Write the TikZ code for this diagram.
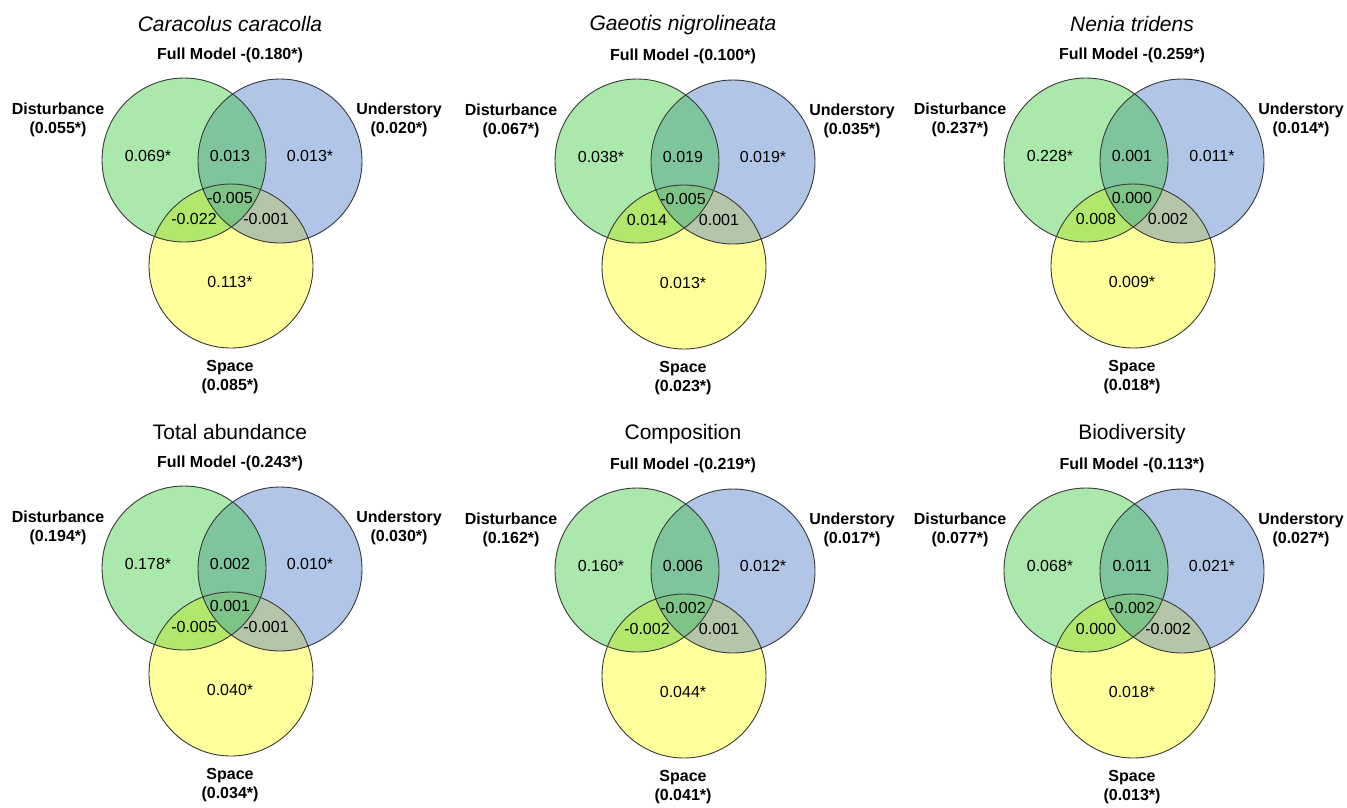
\documentclass[tikz,border=0pt]{standalone}
\usepackage{fontspec}
\setmainfont{Liberation Sans}
\definecolor{cG}{HTML}{ABE8AB}
\definecolor{cB}{HTML}{B1C5E6}
\definecolor{cY}{HTML}{FFFF9B}
\definecolor{cGB}{HTML}{7EC59D}
\definecolor{cGY}{HTML}{B1E86B}
\definecolor{cBY}{HTML}{B5C5A9}
\definecolor{cGBY}{HTML}{7DC486}
\definecolor{cLine}{HTML}{3A3A3A}
\tikzset{
  ttl/.style={font=\fontsize{21}{25}\selectfont, inner sep=0pt},
  lbl/.style={font=\fontsize{16}{19}\selectfont\bfseries, align=center, inner sep=0pt},
  num/.style={font=\fontsize{16}{19}\selectfont, inner sep=0pt},
  ring/.style={draw=cLine, line width=0.9pt},
}
\newcommand\vcirc{%
  \fill[cG] (-48,0) circle (82pt);
  \fill[cB] (48,1) circle (82pt);
  \fill[cY] (-1,106) circle (82pt);
  \begin{scope}\clip (-48,0) circle (82pt);
    \fill[cGB] (48,1) circle (82pt);
    \fill[cGY] (-1,106) circle (82pt);
  \end{scope}
  \begin{scope}\clip (48,1) circle (82pt);
    \fill[cBY] (-1,106) circle (82pt);
  \end{scope}
  \begin{scope}\clip (-48,0) circle (82pt); \clip (48,1) circle (82pt);
    \fill[cGBY] (-1,106) circle (82pt);
  \end{scope}
  \draw[ring] (-48,0) circle (82pt) (48,1) circle (82pt) (-1,106) circle (82pt);
}
% id, title, full, disturbance, understory, space
\newcommand\vlabels[6]{%
  \node[ttl] (#1title) at (-2,-136) {#2};
  \node[lbl] (#1full) at (-2,-105) {Full Model -(#3)};
  \node[lbl] (#1dist) at (-174,-40.5) {Disturbance\\(#4)};
  \node[lbl] (#1under) at (167,-40.5) {Understory\\(#5)};
  \node[lbl] (#1space) at (-2,217.5) {Space\\(#6)};
}
% id, g, gb, b, gby, gy, by, y
\newcommand\vnums[8]{%
  \node[num] (#1g) at (-84,-4) {#2};
  \node[num] (#1gb) at (-2,-4) {#3};
  \node[num] (#1b) at (78,-4) {#4};
  \node[num] (#1gby) at (-2,38) {#5};
  \node[num] (#1gy) at (-38,59) {#6};
  \node[num] (#1by) at (34,59) {#7};
  \node[num] (#1y) at (-2,122) {#8};
}
\begin{document}
\begin{tikzpicture}[x=1pt,y=-1pt]
\fill[white] (0,0) rectangle (1347,807);
\useasboundingbox (0,0) rectangle (1347,807);
% panel 1
\begin{scope}[shift={(232,160)}]
  \vcirc
  \vlabels{pa}{\textit{Caracolus caracolla}}{0.180*}{0.055*}{0.020*}{0.085*}
  \vnums{pa}{0.069*}{0.013}{0.013*}{-0.005}{-0.022}{-0.001}{0.113*}
\end{scope}
% panel 2
\begin{scope}[shift={(685,161)}]
  \vcirc
  \vlabels{pb}{\textit{Gaeotis nigrolineata}}{0.100*}{0.067*}{0.035*}{0.023*}
  \vnums{pb}{0.038*}{0.019}{0.019*}{-0.005}{0.014}{0.001}{0.013*}
\end{scope}
% panel 3
\begin{scope}[shift={(1134,160)}]
  \vcirc
  \vlabels{pc}{\textit{Nenia tridens}}{0.259*}{0.237*}{0.014*}{0.018*}
  \vnums{pc}{0.228*}{0.001}{0.011*}{0.000}{0.008}{0.002}{0.009*}
\end{scope}
% panel 4
\begin{scope}[shift={(232,568)}]
  \vcirc
  \vlabels{pd}{Total abundance}{0.243*}{0.194*}{0.030*}{0.034*}
  \vnums{pd}{0.178*}{0.002}{0.010*}{0.001}{-0.005}{-0.001}{0.040*}
\end{scope}
% panel 5
\begin{scope}[shift={(685,570)}]
  \vcirc
  \vlabels{pe}{Composition}{0.219*}{0.162*}{0.017*}{0.041*}
  \vnums{pe}{0.160*}{0.006}{0.012*}{-0.002}{-0.002}{0.001}{0.044*}
\end{scope}
% panel 6
\begin{scope}[shift={(1134,570)}]
  \vcirc
  \vlabels{pf}{Biodiversity}{0.113*}{0.077*}{0.027*}{0.013*}
  \vnums{pf}{0.068*}{0.011}{0.021*}{-0.002}{0.000}{-0.002}{0.018*}
\end{scope}
\end{tikzpicture}
\end{document}
